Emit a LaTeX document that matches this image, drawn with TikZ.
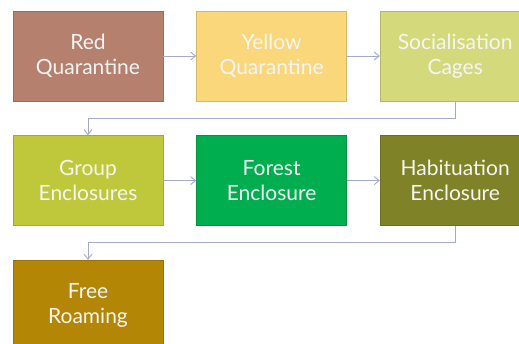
\documentclass[tikz,border=0pt]{standalone}
\usepackage{fontspec}
\setmainfont{Lato}
\usepackage{xcolor}
\usetikzlibrary{arrows.meta, positioning}

\definecolor{redq}{HTML}{B5806E}
\definecolor{yellowq}{HTML}{F9D77A}
\definecolor{cages}{HTML}{D4DA7C}
\definecolor{groupenc}{HTML}{BFC83A}
\definecolor{forestenc}{HTML}{00AD4F}
\definecolor{habenc}{HTML}{7F8226}
\definecolor{freeroam}{HTML}{B38705}
\definecolor{linkcol}{HTML}{A3AACB}

\begin{document}
\begin{tikzpicture}[
    node distance=34pt and 33pt,
    stage/.style={rectangle, draw=#1!85!black, fill=#1, line width=0.6pt, inner xsep=2pt, minimum width=150pt, minimum height=90pt, text width=145pt, align=center, text=white!96!black, font=\fontsize{21}{25}\selectfont},
    arrow/.style={draw=linkcol, line width=0.9pt, -{Straight Barb[length=5pt, width=8pt]}}
]
    \clip (0,0) rectangle (519pt,-344pt);
    \fill[white] (0,0) rectangle (519pt,-344pt);

    % First row
    \node (red) [stage=redq] at (88pt,-56pt) {Red\\Quarantine};
    \node (yellow) [stage=yellowq, right=of red] {Yellow\\Quarantine};
    \node (cage) [stage=cages, right=of yellow] {Socialisation\\Cages};

    % Second row
    \node (group) [stage=groupenc, below=of red] {Group\\Enclosures};
    \node (forest) [stage=forestenc, right=of group] {Forest\\Enclosure};
    \node (habit) [stage=habenc, right=of forest] {Habituation\\Enclosure};

    % Third row
    \node (free) [stage=freeroam, below=of group] {Free\\Roaming};

    % Arrows
    \draw [arrow] (red) -- (yellow);
    \draw [arrow] (yellow) -- (cage);
    \draw [arrow] (cage.south) -- ++(0,-17pt) -| (group.north);
    \draw [arrow] (group) -- (forest);
    \draw [arrow] (forest) -- (habit);
    \draw [arrow] (habit.south) -- ++(0,-17pt) -| (free.north);

\end{tikzpicture}
\end{document}
